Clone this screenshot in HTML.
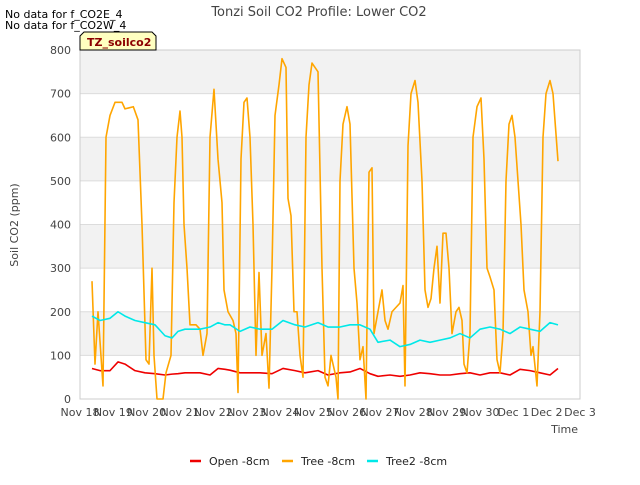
<!DOCTYPE html>
<html><head><meta charset="utf-8"><style>
body{margin:0;background:#fff;font-family:"Liberation Sans","DejaVu Sans",sans-serif}
svg text{font-family:"DejaVu Sans","Liberation Sans",sans-serif}
</style></head><body>
<svg id="c" width="640" height="480" viewBox="0 0 640 480">
<text x="319" y="16" text-anchor="middle" font-size="13" fill="#444">Tonzi Soil CO2 Profile: Lower CO2</text>
<text x="5" y="18" font-size="11" fill="#000">No data for f_CO2E_4</text>
<text x="5" y="29" font-size="11" fill="#000">No data for f_CO2W_4</text>
<g id="plot"></g>
<g>
<polygon points="84,32 152,32 156,36 156,50 80,50 80,36" fill="#ffffc0" stroke="#000" stroke-width="1"/>
<text x="87" y="46" font-size="11" font-weight="bold" fill="#8b0000">TZ_soilco2</text>
</g>
<text x="18" y="225" font-size="11" fill="#444" text-anchor="middle" transform="rotate(-90 18 225)">Soil CO2 (ppm)</text>
<text x="578" y="433" font-size="11" fill="#444" text-anchor="end">Time</text>
<g>
<g><line x1="190" y1="461" x2="201" y2="461" stroke="#e00" stroke-width="2.5"/><text x="209" y="465" font-size="11" fill="#222">Open -8cm</text></g>
<g><line x1="282" y1="461" x2="293" y2="461" stroke="#ffa500" stroke-width="2.5"/><text x="301" y="465" font-size="11" fill="#222">Tree -8cm</text></g>
<g><line x1="367" y1="461" x2="378" y2="461" stroke="#00e8e8" stroke-width="2.5"/><text x="386" y="465" font-size="11" fill="#222">Tree2 -8cm</text></g>
</g>
</svg>
<script>
const xTickLabels=["Nov 18","Nov 19","Nov 20","Nov 21","Nov 22","Nov 23","Nov 24","Nov 25","Nov 26","Nov 27","Nov 28","Nov 29","Nov 30","Dec 1","Dec 2","Dec 3"];
const yTicks=[0,100,200,300,400,500,600,700,800];
const treeDays=[0.36,0.45,0.54,0.69,0.78,0.9,1.05,1.26,1.35,1.6,1.74,1.86,1.98,2.07,2.16,2.22,2.31,2.49,2.58,2.73,2.82,2.91,3.0,3.06,3.12,3.21,3.3,3.48,3.6,3.69,3.81,3.9,4.02,4.14,4.26,4.32,4.44,4.59,4.68,4.74,4.83,4.92,5.01,5.1,5.19,5.28,5.37,5.46,5.58,5.67,5.76,5.85,5.97,6.06,6.18,6.24,6.33,6.42,6.51,6.6,6.69,6.78,6.87,6.96,7.14,7.26,7.35,7.44,7.53,7.68,7.74,7.8,7.89,8.01,8.1,8.22,8.31,8.4,8.49,8.58,8.67,8.76,8.82,8.94,9.06,9.15,9.24,9.36,9.48,9.6,9.69,9.75,9.84,9.93,10.05,10.14,10.26,10.35,10.44,10.53,10.62,10.71,10.8,10.89,10.98,11.07,11.16,11.28,11.37,11.46,11.52,11.61,11.7,11.79,11.91,12.03,12.12,12.21,12.3,12.42,12.51,12.6,12.69,12.78,12.87,12.96,13.05,13.14,13.23,13.32,13.44,13.53,13.59,13.71,13.8,13.89,13.98,14.1,14.19,14.34];
const treeVals=[270,80,200,30,600,650,680,680,665,670,640,400,90,80,300,100,0,0,60,100,450,600,660,600,400,300,170,170,160,100,150,600,710,550,450,250,200,180,150,15,550,680,690,600,400,100,290,100,150,25,300,650,720,780,760,460,420,200,200,100,50,600,720,770,750,300,50,30,100,50,0,500,630,670,630,300,220,90,120,0,520,530,150,200,250,180,160,200,210,220,260,30,580,700,730,680,500,250,210,230,300,350,220,380,380,300,150,200,210,180,80,60,150,600,670,690,550,300,280,250,90,60,150,500,630,650,600,500,400,250,200,100,120,30,200,600,700,730,700,545];
const baseDays=[0.36,0.6,0.9,1.14,1.35,1.65,1.95,2.25,2.55,2.76,2.94,3.15,3.3,3.6,3.9,4.14,4.35,4.5,4.8,5.1,5.4,5.76,6.09,6.45,6.75,7.14,7.44,7.8,8.1,8.4,8.7,8.94,9.3,9.6,9.9,10.2,10.5,10.8,11.1,11.4,11.7,12.0,12.3,12.6,12.9,13.2,13.5,13.8,14.1,14.34];
const tree2Vals=[190,180,185,200,190,180,175,170,145,140,155,160,160,160,165,175,170,170,155,165,160,160,180,170,165,175,165,165,170,170,160,130,135,120,125,135,130,135,140,150,140,160,165,160,150,165,160,155,175,170];
const openVals=[70,65,65,85,80,65,60,58,55,57,58,60,60,60,55,70,68,66,60,60,60,58,70,65,60,65,55,60,62,70,58,52,55,52,55,60,58,55,55,58,60,55,60,60,55,68,65,60,55,70];

const NS="http://www.w3.org/2000/svg";
const X0=80,X1=580,Y0=399,Y1=50;
const xs=d=>X0+d*(X1-X0)/15;
const ys=v=>Y0-v*(Y0-Y1)/800;
const g=document.getElementById('plot');
function mk(t,a){const e=document.createElementNS(NS,t);for(const k in a)e.setAttribute(k,a[k]);g.appendChild(e);return e;}
for(let i=0;i<8;i++){
  if(i%2===0){const r=mk('rect',{x:X0,y:ys(yTicks[8-i]),width:X1-X0,height:ys(yTicks[7-i])-ys(yTicks[8-i]),fill:'#f2f2f2'});
  
  }
}
yTicks.forEach(v=>{
  const l=mk('line',{x1:X0,x2:X1,y1:ys(v),y2:ys(v),stroke:'#dcdcdc','stroke-width':1});
  
  
  const t=mk('text',{x:X0-9,y:ys(v)+4,'text-anchor':'end','font-size':11,fill:'#444'});t.textContent=v;
  
  
});
const fr=mk('rect',{x:X0,y:Y1,width:X1-X0,height:Y0-Y1,fill:'none',stroke:'#ccc'});


xTickLabels.forEach((s,i)=>{
  const t=mk('text',{x:xs(i),y:Y0+17,'text-anchor':'middle','font-size':11,fill:'#444'});t.textContent=s;
  
  
});
function line(days,vals,col,name){
  const p=mk('polyline',{points:days.map((d,i)=>xs(d)+','+ys(vals[i])).join(' '),fill:'none',stroke:col,'stroke-width':1.6,'stroke-linejoin':'round'});
  
  
}
line(baseDays,openVals,'#e00','series-open');
line(treeDays,treeVals,'#ffa500','series-tree');
line(baseDays,tree2Vals,'#00e8e8','series-tree2');
</script>
</body></html>
